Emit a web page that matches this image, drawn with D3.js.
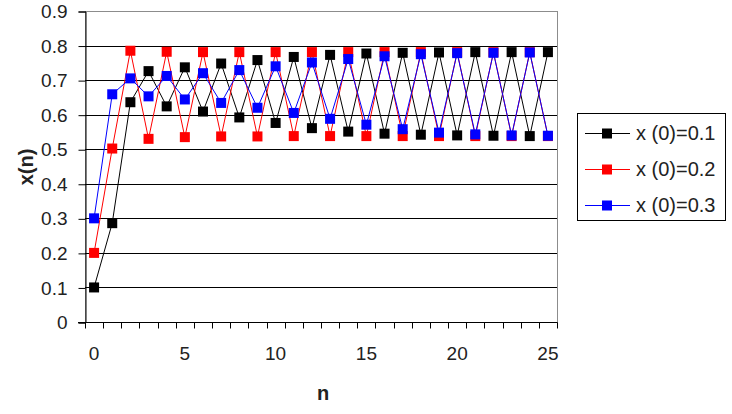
<!DOCTYPE html>
<html>
<head>
<meta charset="utf-8">
<script src="https://cdn.jsdelivr.net/npm/d3@7"></script>
<style>
  html, body { margin: 0; padding: 0; background: #fff; }
  svg { display: block; font-family: "Liberation Sans", Arial, sans-serif; }
</style>
</head>
<body>
<svg id="chart" width="732" height="414"></svg>
<script>
// values
const steps = d3.range(0, 26)
const series1 = [0.100, 0.286, 0.636, 0.726, 0.624, 0.737, 0.609, 0.748, 0.592, 0.758,
                 0.576, 0.767, 0.561, 0.773, 0.551, 0.777, 0.545, 0.779, 0.542, 0.780,
                 0.540, 0.781, 0.539, 0.781, 0.538, 0.781]
const series2 = [0.200, 0.502, 0.785, 0.530, 0.782, 0.535, 0.781, 0.537, 0.781, 0.537,
                 0.781, 0.538, 0.781, 0.538, 0.781, 0.538, 0.781, 0.538, 0.781, 0.538,
                 0.781, 0.538, 0.781, 0.538, 0.781, 0.538]
const series3 = [0.300, 0.659, 0.705, 0.653, 0.712, 0.644, 0.720, 0.634, 0.729, 0.620,
                 0.740, 0.605, 0.751, 0.588, 0.761, 0.571, 0.769, 0.558, 0.775, 0.548,
                 0.778, 0.543, 0.779, 0.540, 0.780, 0.539]
const seriesNames = ["x (0)=0.1", "x (0)=0.2", "x (0)=0.3"]
const seriesColors = ["#000000", "#ff0000", "#0000ff"]
const yTicks = [0, 0.1, 0.2, 0.3, 0.4, 0.5, 0.6, 0.7, 0.8, 0.9]
const xTickLabels = [0, 5, 10, 15, 20, 25]

const svg = d3.select("#chart")
const plot = {left: 85, right: 557, top: 11, bottom: 322}

const xBand = d3.scaleBand(steps, [plot.left, plot.right]).padding(0)
const xPoint = d3.scalePoint(steps, [plot.left, plot.right]).padding(0.5)
const yScale = d3.scaleLinear([0, 0.9], [plot.bottom, plot.top])

// plot area border
svg.append("rect")
    .attr("x", plot.left + 0.5)
    .attr("y", plot.top + 0.5)
    .attr("width", plot.right - plot.left)
    .attr("height", plot.bottom - plot.top)
    .attr("fill", "none")
    .attr("stroke", "#8c8c8c")

// gridlines
svg.append("g")
    .selectAll("line")
    .data(yTicks.filter(d => d > 0 && d < 0.9))
    .join("line")
    .attr("x1", plot.left)
    .attr("x2", plot.right)
    .attr("y1", d => Math.round(yScale(d)) + 0.5)
    .attr("y2", d => Math.round(yScale(d)) + 0.5)
    .attr("stroke", "#000")

// y axis
const yAxis = d3.axisLeft(yScale)
    .tickValues(yTicks)
    .tickSize(7)
    .tickPadding(11)
    .tickFormat(d => d === 0 ? "0" : d3.format(".1f")(d))
svg.append("g")
    .attr("transform", `translate(${plot.left + 0.5}, 0.5)`)
    .call(yAxis)
    .call(g => g.selectAll("path, line").attr("stroke", "#000"))
    .call(g => g.selectAll("text").attr("font-size", 19).attr("fill", "#222").attr("font-family", null))

// x axis: ticks between categories, labels at category centres
const xAxisGroup = svg.append("g")
    .attr("transform", `translate(0, ${plot.bottom + 0.5})`)
xAxisGroup.append("line")
    .attr("x1", plot.left - 7)
    .attr("x2", plot.right + 0.5)
    .attr("stroke", "#000")
xAxisGroup.selectAll(".tick-mark")
    .data(steps.concat([26]))
    .join("line")
    .attr("class", "tick-mark")
    .attr("x1", d => Math.round(d < 26 ? xBand(d) : plot.right) + 0.5)
    .attr("x2", d => Math.round(d < 26 ? xBand(d) : plot.right) + 0.5)
    .attr("y1", 0)
    .attr("y2", 6)
    .attr("stroke", "#000")
xAxisGroup.selectAll(".tick-label")
    .data(xTickLabels)
    .join("text")
    .attr("class", "tick-label")
    .attr("x", d => xPoint(d))
    .attr("y", 37)
    .attr("text-anchor", "middle")
    .attr("font-size", 19)
    .attr("fill", "#222")
    .text(d => d)

// series
const allSeries = [series1, series2, series3]
allSeries.forEach((values, i) => {
    const data = steps.map(n => ({n: n, v: values[n]}))
    const g = svg.append("g")
    g.append("path")
        .datum(data)
        .attr("fill", "none")
        .attr("stroke", seriesColors[i])
        .attr("stroke-width", 1)
        .attr("d", d3.line().x(d => xPoint(d.n)).y(d => yScale(d.v)))
    g.selectAll("rect")
        .data(data)
        .join("rect")
        .attr("x", d => xPoint(d.n) - 5)
        .attr("y", d => yScale(d.v) - 5)
        .attr("width", 10)
        .attr("height", 10)
        .attr("fill", seriesColors[i])
})

// axis titles
svg.append("text")
    .attr("transform", "translate(33, 167) rotate(-90)")
    .attr("text-anchor", "middle")
    .attr("font-size", 20)
    .attr("font-weight", "bold")
    .attr("fill", "#222")
    .text("x(n)")

svg.append("text")
    .attr("x", 323)
    .attr("y", 400)
    .attr("text-anchor", "middle")
    .attr("font-size", 20)
    .attr("font-weight", "bold")
    .attr("fill", "#222")
    .text("n")

// legend
const legend = svg.append("g")
legend.append("rect")
    .attr("x", 577.5)
    .attr("y", 113.5)
    .attr("width", 148)
    .attr("height", 107)
    .attr("fill", "#fff")
    .attr("stroke", "#000")
const legendRows = [133, 169, 205]
seriesNames.forEach((name, i) => {
    const row = legend.append("g").attr("transform", `translate(0, ${legendRows[i]})`)
    row.append("line")
        .attr("x1", 585)
        .attr("x2", 630)
        .attr("y1", 0.5)
        .attr("y2", 0.5)
        .attr("stroke", seriesColors[i])
    row.append("rect")
        .attr("x", 602)
        .attr("y", -4.5)
        .attr("width", 10)
        .attr("height", 10)
        .attr("fill", seriesColors[i])
    row.append("text")
        .attr("x", 636)
        .attr("y", 0)
        .attr("dy", "0.35em")
        .attr("font-size", 20)
        .attr("fill", "#222")
        .text(name)
})
</script>
</body>
</html>
